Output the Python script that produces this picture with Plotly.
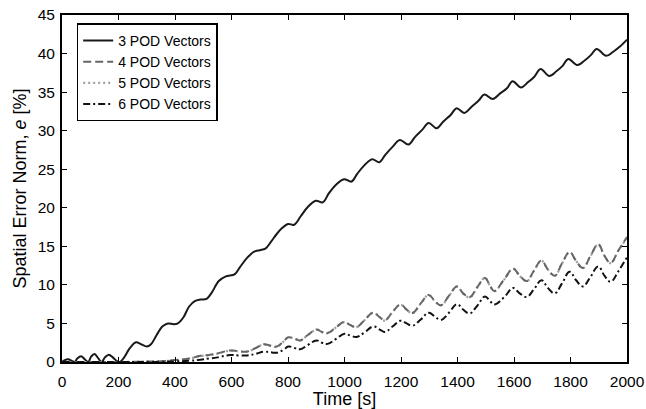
import plotly.graph_objects as go

# ---- data ----
t_pod3 = [0, 10, 22, 35, 45, 55, 68, 82, 93, 103, 115, 128, 140, 152, 166, 180, 195, 205,
          220, 240, 262, 280, 300, 315, 335, 355, 375, 395, 410, 430, 450, 470, 490, 512,
          530, 555, 580, 612, 630, 655, 680, 700, 720, 740, 760, 780, 800, 822, 845, 870,
          899, 923, 945, 970, 998, 1025, 1045, 1070, 1098, 1123, 1145, 1170, 1196, 1226,
          1250, 1275, 1298, 1326, 1350, 1375, 1397, 1424, 1450, 1475, 1495, 1525, 1550,
          1575, 1595, 1625, 1650, 1672, 1694, 1725, 1750, 1772, 1792, 1825, 1850, 1872,
          1893, 1926, 1950, 1975, 2000]
e_pod3 = [0, 0.25, 0.35, 0.15, 0, 0.5, 0.75, 0.3, 0, 0.7, 1.05, 0.5, 0, 0.6, 0.95, 0.6, 0.1, 0,
          0.6, 1.8, 2.55, 2.3, 2.0, 2.3, 3.5, 4.6, 5.0, 4.9, 5.0, 5.8, 7.2, 7.9, 8.1, 8.2,
          9.0, 10.5, 11.1, 11.4, 12.3, 13.5, 14.3, 14.5, 14.7, 15.6, 16.6, 17.4, 17.9, 17.8, 18.9, 20.1,
          20.9, 20.7, 21.9, 23.0, 23.7, 23.4, 24.4, 25.5, 26.3, 25.9, 26.9, 27.9, 28.8, 28.2,
          29.2, 30.1, 31.0, 30.3, 31.2, 32.0, 32.9, 32.3, 33.1, 33.9, 34.7, 34.1, 34.8,
          35.5, 36.4, 35.6, 36.3, 37.0, 38.0, 37.1, 37.7, 38.4, 39.3, 38.5, 39.1, 39.8,
          40.6, 39.7, 40.2, 40.9, 41.8]

t_low = [0, 100, 200, 300, 350, 400, 450, 490, 520, 550, 595, 625, 655, 690, 713, 740, 760,
         785, 801, 825, 843, 870, 901, 920, 940, 970, 1000, 1020, 1043, 1070, 1102, 1125,
         1143, 1170, 1198, 1220, 1240, 1270, 1298, 1320, 1341, 1370, 1398, 1420, 1443, 1470,
         1497, 1515, 1530, 1565, 1597, 1620, 1645, 1670, 1697, 1720, 1744, 1770, 1797, 1820,
         1844, 1870, 1898, 1920, 1942, 1970, 2000]
e_pod4 = [0, 0, 0, 0.05, 0.1, 0.25, 0.45, 0.8, 0.9, 1.1, 1.5, 1.4, 1.35, 1.9, 2.3, 2.1, 2.0,
          2.7, 3.2, 3.0, 2.8, 3.5, 4.2, 3.9, 3.75, 4.5, 5.2, 4.8, 4.55, 5.4, 6.4, 5.8,
          5.4, 6.5, 7.45, 6.8, 6.35, 7.6, 8.7, 7.9, 7.35, 8.6, 9.8, 8.9, 8.4, 9.7,
          10.9, 9.9, 9.2, 10.7, 12.1, 11.2, 10.5, 11.8, 13.15, 12.0, 11.2, 12.8, 14.25, 13.1,
          12.2, 13.7, 15.25, 13.8, 12.85, 14.5, 16.2]
e_pod5 = [0, 0, 0, 0.05, 0.1, 0.22, 0.42, 0.78, 0.88, 1.08, 1.48, 1.38, 1.33, 1.88, 2.28, 2.08, 1.98,
          2.68, 3.18, 2.98, 2.78, 3.48, 4.18, 3.88, 3.73, 4.48, 5.18, 4.78, 4.53, 5.38, 6.38, 5.78,
          5.38, 6.48, 7.43, 6.78, 6.33, 7.58, 8.68, 7.88, 7.33, 8.58, 9.78, 8.88, 8.38, 9.68,
          10.88, 9.88, 9.18, 10.68, 12.08, 11.18, 10.48, 11.78, 13.13, 11.98, 11.18, 12.78, 14.23, 13.08,
          12.18, 13.68, 15.23, 13.78, 12.83, 14.48, 16.1]
e_pod6 = [0, 0, 0, 0, 0.03, 0.08, 0.15, 0.3, 0.45, 0.6, 0.9, 0.85, 0.85, 1.1, 1.35, 1.25, 1.2,
          1.6, 2.0, 1.8, 1.65, 2.2, 2.8, 2.5, 2.35, 3.0, 3.65, 3.45, 3.25, 3.8, 4.6, 4.2,
          3.9, 4.6, 5.35, 5.0, 4.7, 5.5, 6.4, 5.9, 5.45, 6.4, 7.5, 6.8, 6.3, 7.3,
          8.5, 7.9, 7.45, 8.4, 9.6, 8.9, 8.45, 9.4, 10.6, 9.6, 8.9, 10.2, 11.7, 10.6,
          9.8, 11.0, 12.4, 11.2, 10.4, 11.8, 13.6]

x_ticks = [0, 200, 400, 600, 800, 1000, 1200, 1400, 1600, 1800, 2000]
y_ticks = [0, 5, 10, 15, 20, 25, 30, 35, 40, 45]

FONT = "Liberation Sans, Arial, Helvetica, sans-serif"

fig = go.Figure()
fig.add_trace(go.Scatter(x=t_pod3, y=e_pod3, mode="lines", name="3 POD Vectors", legendrank=1,
                         line=dict(color="#1a1a1a", width=2, shape="spline", smoothing=1.0)))
fig.add_trace(go.Scatter(x=t_low, y=e_pod5, mode="lines", name="5 POD Vectors", legendrank=3,
                         line=dict(color="#a0a0a0", width=2.2, dash="2px,3px", shape="spline", smoothing=1.2)))
fig.add_trace(go.Scatter(x=t_low, y=e_pod4, mode="lines", name="4 POD Vectors", legendrank=2,
                         line=dict(color="#666666", width=2, dash="8px,4px", shape="spline", smoothing=1.2)))
fig.add_trace(go.Scatter(x=t_low, y=e_pod6, mode="lines", name="6 POD Vectors", legendrank=4,
                         line=dict(color="#111111", width=2, dash="7px,3px,2px,3px", shape="spline", smoothing=1.2)))

axis_common = dict(showgrid=False, zeroline=False, showline=True, linecolor="black", linewidth=2,
                   mirror="ticks", ticks="inside", ticklen=5, tickwidth=1, tickcolor="black",
                   automargin=False,
                   tickfont=dict(family=FONT, size=15.5, color="black"))

fig.update_layout(
    width=646, height=409,
    margin=dict(l=62, r=19, t=15, b=47, autoexpand=False),
    paper_bgcolor="white", plot_bgcolor="white",
    font=dict(family=FONT, color="black"),
    legend=dict(x=0.026, y=0.976, xanchor="left", yanchor="top",
                bgcolor="white", bordercolor="black", borderwidth=1.5,
                font=dict(family=FONT, size=14, color="black"),
                traceorder="normal", tracegroupgap=0, itemwidth=30),
    xaxis=dict(range=[0, 2000], tickvals=x_ticks, ticklabelstandoff=4,
               title=dict(text="Time [s]", font=dict(family=FONT, size=18), standoff=0),
               **axis_common),
    yaxis=dict(range=[0, 45], tickvals=y_ticks, ticklabelstandoff=2,
               title=dict(text="Spatial Error Norm, <i>e</i> [%]", font=dict(family=FONT, size=18), standoff=6),
               **axis_common),
    showlegend=True,
)

fig.write_html("out.html")
